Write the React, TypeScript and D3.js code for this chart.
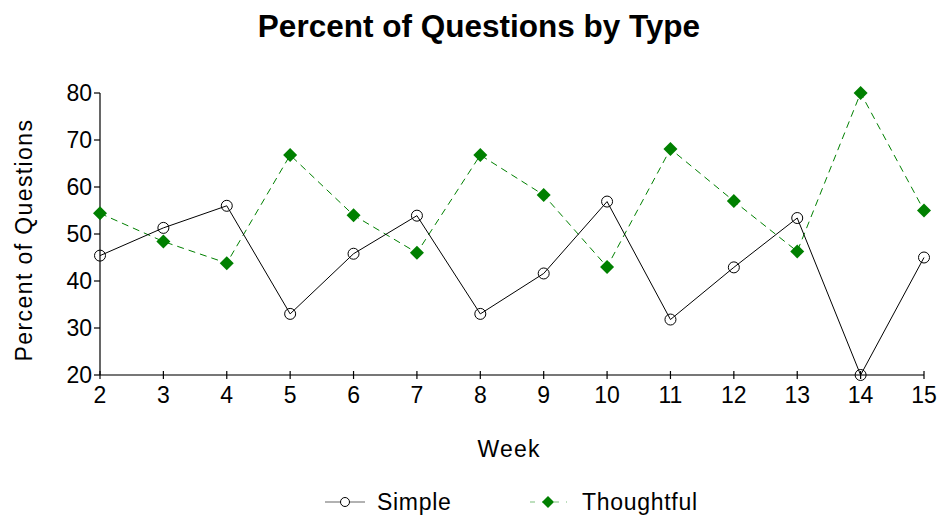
import React from "react";
import * as d3 from "d3";

const weeks = [2, 3, 4, 5, 6, 7, 8, 9, 10, 11, 12, 13, 14, 15];
const simple = [45.4, 51.3, 56.0, 33.0, 45.8, 53.9, 33.0, 41.6, 56.9, 31.8, 42.9, 53.4, 20.0, 45.0];
const thoughtful = [54.4, 48.4, 43.8, 66.8, 54.0, 46.0, 66.8, 58.3, 43.0, 68.1, 57.0, 46.3, 80.0, 55.0];
const yTicks = [20, 30, 40, 50, 60, 70, 80];
const title = "Percent of Questions by Type";
const xLabel = "Week";
const yLabel = "Percent of Questions";
const seriesNames = ["Simple", "Thoughtful"];

const W = 940;
const H = 517;
const FONT = "'Liberation Sans', Arial, sans-serif";
const GREEN = "#008000";

export default function App() {
  const x = d3.scaleLinear().domain([2, 15]).range([100, 924]);
  const y = d3.scaleLinear().domain([20, 80]).range([375, 93]);

  const line = d3
    .line<number>()
    .x((_, i) => x(weeks[i]))
    .y((d) => y(d));

  const diamond = (cx: number, cy: number, r: number) =>
    `M${cx},${cy - r}L${cx + r},${cy}L${cx},${cy + r}L${cx - r},${cy}Z`;

  return (
    <svg
      width={W}
      height={H}
      style={{ position: "absolute", left: 0, top: 0, background: "#fff" }}
      fontFamily={FONT}
    >
      <text x={479} y={37} textAnchor="middle" fontSize={31.5} fontWeight="bold" fill="#000">
        {title}
      </text>

      {/* axes */}
      <line x1={x(2)} x2={x(15)} y1={y(20)} y2={y(20)} stroke="#777" strokeWidth={2} />
      <line x1={x(2)} x2={x(2)} y1={y(80)} y2={y(20)} stroke="#000" strokeWidth={1.2} />
      {yTicks.map((t) => (
        <g key={"y" + t}>
          <line x1={x(2) - 6} x2={x(2)} y1={y(t)} y2={y(t)} stroke="#000" strokeWidth={1.2} />
          <text x={x(2) - 8} y={y(t)} dy="0.36em" textAnchor="end" fontSize={23} fill="#000">
            {t}
          </text>
        </g>
      ))}
      {weeks.map((w) => (
        <g key={"x" + w}>
          <line x1={x(w)} x2={x(w)} y1={y(20) - 4} y2={y(20) + 4} stroke="#000" strokeWidth={1.2} />
          <text x={x(w)} y={403} textAnchor="middle" fontSize={23} fill="#000">
            {w}
          </text>
        </g>
      ))}
      <text x={509} y={457} textAnchor="middle" fontSize={23} letterSpacing={1.2} fill="#000">
        {xLabel}
      </text>
      <text
        transform={`translate(32,240) rotate(-90)`}
        textAnchor="middle"
        fontSize={23}
        letterSpacing={1.4}
        fill="#000"
      >
        {yLabel}
      </text>

      {/* series */}
      <path d={line(thoughtful) || ""} fill="none" stroke={GREEN} strokeWidth={1} strokeDasharray="7,5" />
      <path d={line(simple) || ""} fill="none" stroke="#000" strokeWidth={1} />
      {thoughtful.map((v, i) => (
        <path key={"t" + i} d={diamond(x(weeks[i]), y(v), 7)} fill={GREEN} />
      ))}
      {simple.map((v, i) => (
        <circle key={"s" + i} cx={x(weeks[i])} cy={y(v)} r={5.5} fill="none" stroke="#000" strokeWidth={1} />
      ))}

      {/* legend */}
      <line x1={325} x2={365} y1={502} y2={502} stroke="#666" strokeWidth={1.2} />
      <circle cx={345} cy={502} r={4.5} fill="#fff" stroke="#000" strokeWidth={1} />
      <text x={377} y={502} dy="0.36em" fontSize={23} letterSpacing={0.7} fill="#000">
        {seriesNames[0]}
      </text>
      <line x1={529} x2={567} y1={502} y2={502} stroke="#7cbf7c" strokeWidth={1.2} strokeDasharray="5,7" strokeDashoffset={-1} />
      <path d={diamond(548, 502, 6)} fill={GREEN} />
      <text x={582} y={502} dy="0.36em" fontSize={23} letterSpacing={0.7} fill="#000">
        {seriesNames[1]}
      </text>
    </svg>
  );
}
